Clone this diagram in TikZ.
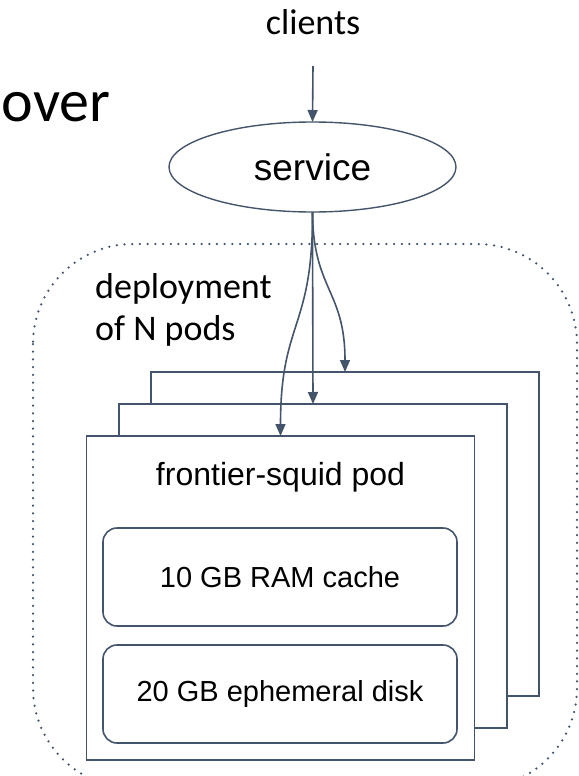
\documentclass[tikz,border=0pt]{standalone}
\usepackage{fontspec}
\setmainfont{Liberation Sans}
\newfontfamily\calfont{Carlito}
\usetikzlibrary{arrows.meta,shapes.geometric}
\definecolor{slate}{HTML}{44546A}
\begin{document}
\begin{tikzpicture}[x=1pt,y=-1pt,
  pod/.style={draw=slate, line width=1.9pt, fill=white, minimum width=388pt, minimum height=324pt, inner sep=0pt, outer sep=0pt, anchor=north west},
  store/.style={draw=slate, line width=1.6pt, rounded corners=14pt, minimum width=354pt, minimum height=98pt, inner sep=0pt, outer sep=0pt, anchor=north west, font=\fontsize{29}{34}\selectfont},
  arr/.style={draw=slate, line width=1.6pt, -{Triangle[length=12pt,width=10pt]}},
  cal/.style={font=\calfont\fontsize{36}{43}\selectfont, inner sep=0pt},
  lbl/.style={inner sep=0pt},
  dots/.style={draw=slate, line width=2.5pt, line cap=round, dash pattern=on 0pt off 7.7pt, rounded corners=100pt}
]
\useasboundingbox (0,0) rectangle (578,776);
% title fragment
\node[lbl, anchor=base west, font=\calfont\fontsize{60}{68}\selectfont] (ttl) at (1.5,121) {over};
% clients and service
\node[cal, anchor=base] (cli) at (313,35) {clients};
\coordinate (cin) at (313,66);
\node[draw=slate, line width=1.4pt, ellipse, minimum width=287pt, minimum height=90pt, inner sep=0pt, outer sep=0pt, font=\fontsize{37}{44}\selectfont] (svc) at (312.5,167) {service};
% deployment container
\draw[dots] (33,244) rectangle (577,788);
\node[cal, anchor=base west] (dep1) at (95,298) {deployment};
\node[cal, anchor=base west] (dep2) at (95,340) {of N pods};
% pods, back to front
\node[pod] (pod3) at (151,372) {};
\node[pod] (pod2) at (119,404) {};
\node[pod] (pod1) at (86.5,436) {};
\node[lbl, anchor=base, font=\fontsize{32}{38}\selectfont] (podlbl) at (280.5,485) {frontier-squid pod};
\node[store] (ram) at (103,528) {10 GB RAM cache};
\node[store] (disk) at (103,645) {20 GB ephemeral disk};
% connectors
\draw[arr] (cin) -- (svc.north);
\draw[arr] (svc.south) .. controls (313,290) and (345,290) .. (pod3.north);
\draw[arr] (svc.south) -- (pod2.north);
\draw[arr] (svc.south) .. controls (313,330) and (280.5,320) .. (pod1.north);
\end{tikzpicture}
\end{document}
